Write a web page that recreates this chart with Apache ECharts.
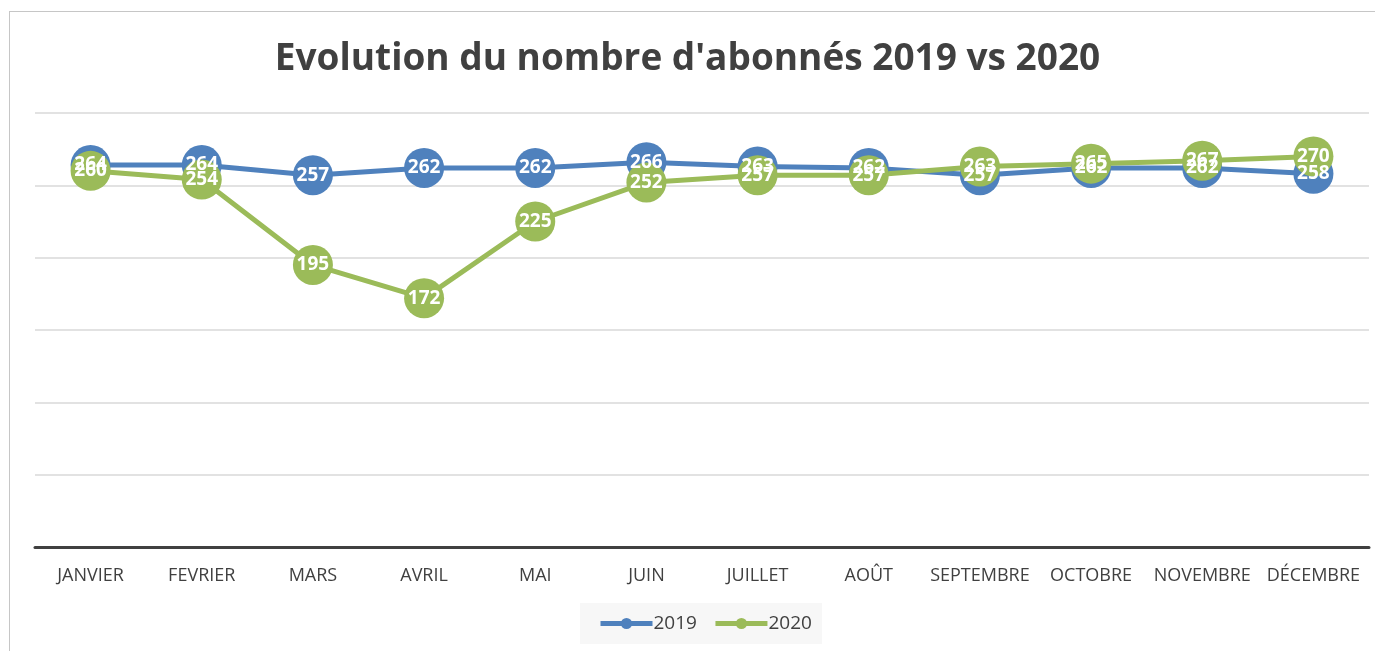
<!DOCTYPE html>
<html>
<head>
<meta charset="utf-8">
<script src="https://cdn.jsdelivr.net/npm/echarts@6/dist/echarts.min.js"></script>
<style>
  html, body { margin: 0; padding: 0; background: #fff; overflow: hidden; }
  #frame { position: absolute; left: 9px; top: 11px; width: 1400px; height: 700px; border: 1px solid #c6c6c6; }
  #chart { position: absolute; left: 0; top: 0; width: 1375px; height: 651px; }
</style>
</head>
<body>
<div id="frame"></div>
<div id="chart"></div>
<script>
// months on the x axis
const months = ['JANVIER', 'FEVRIER', 'MARS', 'AVRIL', 'MAI', 'JUIN', 'JUILLET', 'AOÛT', 'SEPTEMBRE', 'OCTOBRE', 'NOVEMBRE', 'DÉCEMBRE'];
// subscribers per month
const subs2019 = [264, 264, 257, 262, 262, 266, 263, 262, 257, 262, 262, 258];
const subs2020 = [260, 254, 195, 172, 225, 252, 257, 257, 263, 265, 267, 270];

const chart = echarts.init(document.getElementById('chart'));

const makeSeries = (name, data, color) => ({
    name: name,
    type: 'line',
    data: data,
    symbol: 'circle',
    symbolSize: 40,
    lineStyle: { width: 5, color: color },
    itemStyle: { color: color },
    label: {
        show: true,
        position: 'inside',
        color: '#fff',
        fontWeight: 'bold',
        fontSize: 19,
        fontFamily: 'Open Sans'
    },
    emphasis: { disabled: true }
});

chart.setOption({
    animation: false,
    textStyle: { fontFamily: 'Open Sans' },
    title: {
        text: "Evolution du nombre d'abonnés 2019 vs 2020",
        left: 'center',
        top: 36,
        textStyle: { fontSize: 37, fontWeight: 'bold', color: '#404040', fontFamily: 'Open Sans' }
    },
    legend: {
        bottom: 7,
        left: 580,
        itemWidth: 52,
        itemHeight: 14,
        itemGap: 16,
        padding: [11, 10, 11, 18],
        backgroundColor: '#f7f7f7',
        lineStyle: { width: 5 },
        textStyle: { fontSize: 19, color: '#404040', padding: [0, 0, 0, -4] },
        data: ['2019', '2020']
    },
    grid: { left: 35, right: 6, top: 113, bottom: 104 },
    xAxis: {
        type: 'category',
        data: months,
        axisLine: { lineStyle: { color: '#404040', width: 3 } },
        axisTick: { show: false },
        axisLabel: { fontSize: 18, color: '#404040', margin: 20, interval: 0 }
    },
    yAxis: {
        type: 'value',
        min: 0,
        max: 300,
        interval: 50,
        axisLabel: { show: false },
        axisLine: { show: false },
        axisTick: { show: false },
        splitLine: { lineStyle: { color: '#d9d9d9', width: 1.5 } }
    },
    series: [
        makeSeries('2019', subs2019, '#4f81bd'),
        makeSeries('2020', subs2020, '#9bbb59')
    ]
});
</script>
</body>
</html>
